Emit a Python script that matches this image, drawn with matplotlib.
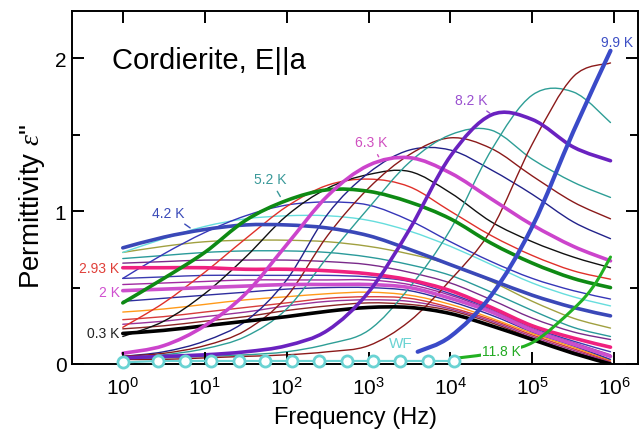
import matplotlib
matplotlib.use("Agg")
import matplotlib.pyplot as plt
import numpy as np
from matplotlib.path import Path
from matplotlib.patches import PathPatch

plt.rcParams["font.family"] = ["Liberation Sans", "DejaVu Sans"]
plt.rcParams["mathtext.fontset"] = "custom"
plt.rcParams["mathtext.rm"] = "Liberation Sans"
plt.rcParams["mathtext.it"] = "Liberation Serif:italic"

# frequency grid (Hz), half-decade steps
FREQ = [1, 3.16, 10, 31.6, 100, 316, 1e3, 3.16e3, 1e4, 3.16e4, 1e5, 3.16e5, 9e5]

# low-temperature ("flat") curves
T03_black = [0.20, 0.22, 0.25, 0.28, 0.31, 0.345, 0.37, 0.37, 0.33, 0.25, 0.16, 0.07, 0.0]
brown_a = [0.23, 0.25, 0.28, 0.31, 0.35, 0.38, 0.40, 0.39, 0.35, 0.27, 0.17, 0.08, 0.01]
purple_a = [0.26, 0.28, 0.31, 0.34, 0.38, 0.41, 0.42, 0.41, 0.36, 0.28, 0.18, 0.09, 0.015]
red_a = [0.29, 0.31, 0.34, 0.37, 0.40, 0.43, 0.44, 0.43, 0.37, 0.29, 0.19, 0.10, 0.02]
orange_a = [0.34, 0.36, 0.39, 0.42, 0.44, 0.46, 0.47, 0.45, 0.39, 0.30, 0.20, 0.11, 0.025]
navy_a = [0.41, 0.43, 0.45, 0.47, 0.49, 0.50, 0.50, 0.48, 0.41, 0.32, 0.21, 0.12, 0.03]
T2_mag = [0.48, 0.49, 0.50, 0.51, 0.52, 0.52, 0.52, 0.50, 0.43, 0.34, 0.22, 0.13, 0.05]
purple_b = [0.52, 0.53, 0.54, 0.55, 0.55, 0.55, 0.55, 0.52, 0.45, 0.35, 0.23, 0.14, 0.06]
navy_b = [0.56, 0.57, 0.58, 0.58, 0.58, 0.58, 0.57, 0.54, 0.46, 0.36, 0.24, 0.15, 0.08]
T293_pink = [0.63, 0.63, 0.63, 0.62, 0.62, 0.61, 0.59, 0.55, 0.48, 0.37, 0.25, 0.17, 0.11]
purple_c = [0.66, 0.67, 0.68, 0.68, 0.68, 0.67, 0.65, 0.60, 0.53, 0.42, 0.30, 0.21, 0.16]
teal_a = [0.69, 0.71, 0.73, 0.74, 0.74, 0.73, 0.70, 0.65, 0.58, 0.47, 0.35, 0.24, 0.18]
olive_a = [0.73, 0.77, 0.80, 0.81, 0.81, 0.80, 0.77, 0.72, 0.65, 0.54, 0.41, 0.30, 0.235]
T42_blue = [0.76, 0.83, 0.88, 0.91, 0.91, 0.89, 0.84, 0.75, 0.65, 0.55, 0.45, 0.37, 0.315]

# higher-temperature curves, peak moving to the right
cyan_r = [0.73, 0.82, 0.90, 0.95, 0.97, 0.97, 0.94, 0.87, 0.77, 0.65, 0.53, 0.44, 0.38]
blue_r = [0.56, 0.72, 0.86, 0.97, 1.04, 1.06, 1.04, 0.94, 0.80, 0.67, 0.56, 0.48, 0.425]
T52_green = [0.40, 0.56, 0.73, 0.94, 1.07, 1.14, 1.13, 1.06, 0.95, 0.79, 0.66, 0.56, 0.50]
red_r = [0.24, 0.40, 0.60, 0.82, 1.03, 1.17, 1.21, 1.16, 1.00, 0.84, 0.71, 0.61, 0.555]
black_r = [0.18, 0.28, 0.46, 0.70, 0.97, 1.15, 1.24, 1.26, 1.12, 0.93, 0.80, 0.70, 0.63]
T63_mag = [0.07, 0.12, 0.25, 0.46, 0.78, 1.10, 1.30, 1.35, 1.25, 1.08, 0.91, 0.77, 0.675]
navy_r = [0.05, 0.08, 0.15, 0.28, 0.55, 0.98, 1.25, 1.40, 1.40, 1.27, 1.11, 0.93, 0.82]
brown_r = [0.05, 0.07, 0.12, 0.22, 0.44, 0.84, 1.15, 1.37, 1.48, 1.41, 1.23, 1.06, 0.95]
teal_r = [0.04, 0.06, 0.10, 0.18, 0.36, 0.70, 1.02, 1.32, 1.50, 1.53, 1.34, 1.19, 1.09]
T82_purple = [0.04, 0.05, 0.06, 0.08, 0.12, 0.22, 0.47, 0.88, 1.36, 1.63, 1.60, 1.42, 1.33]
teal_s = [0.03, 0.04, 0.05, 0.06, 0.08, 0.13, 0.22, 0.50, 0.88, 1.40, 1.76, 1.78, 1.58]
brown_s = [0.03, 0.03, 0.04, 0.05, 0.06, 0.08, 0.12, 0.28, 0.55, 0.88, 1.44, 1.88, 1.97]

F99 = [3980, 1e4, 3.16e4, 1e5, 3.16e5, 9e5]
T99_blue = [0.08, 0.18, 0.45, 0.90, 1.52, 2.05]
F118 = [12600, 3.16e4, 1e5, 3.16e5, 5.6e5, 9e5]
T118_green = [0.04, 0.07, 0.14, 0.36, 0.51, 0.70]

WF_FREQ = [1, 2.7, 5.8, 12, 26, 55, 118, 250, 540, 1150, 2450, 5250, 11200]
WF_EPS = [0.01, 0.02, 0.02, 0.02, 0.02, 0.02, 0.02, 0.02, 0.02, 0.02, 0.02, 0.02, 0.02]

THIN = [
    (brown_a, "#8b2525"), (purple_a, "#993399"), (red_a, "#d63b3b"),
    (orange_a, "#ff9a1a"), (navy_a, "#2e2e9e"), (purple_b, "#a02aa0"),
    (navy_b, "#3a3ab0"), (purple_c, "#7a2a8a"), (teal_a, "#2a9a9a"),
    (olive_a, "#a0a040"), (cyan_r, "#66dddd"), (blue_r, "#3636b8"),
    (red_r, "#e0302a"), (black_r, "#111111"), (navy_r, "#22228a"),
    (brown_r, "#8b1a1a"), (teal_r, "#2e9e96"), (teal_s, "#2e9e96"),
    (brown_s, "#8b1a1a"),
]
THICK = [
    (T03_black, "#000000"), (T2_mag, "#cc4fcc"), (T293_pink, "#f0217f"),
    (T42_blue, "#3a48b8"), (T52_green, "#0e8a14"), (T63_mag, "#cc44cc"),
    (T82_purple, "#6a22c0"),
]


def smooth_line(ax, xs, ys, **kw):
    """Draw the measured points as one smooth Bezier path (log-x space)."""
    lx = np.log10(xs)
    pts = np.column_stack([lx, ys])
    n = len(pts)
    verts = [pts[0]]
    codes = [Path.MOVETO]
    for i in range(n - 1):
        p0 = pts[max(i - 1, 0)]
        p1, p2 = pts[i], pts[i + 1]
        p3 = pts[min(i + 2, n - 1)]
        verts += [p1 + (p2 - p0) / 6, p2 - (p3 - p1) / 6, p2]
        codes += [Path.CURVE4] * 3
    verts = np.array(verts)
    verts[:, 0] = 10 ** verts[:, 0]
    ax.add_patch(PathPatch(Path(verts, codes), fill=False, capstyle="round",
                           joinstyle="round", **kw))


fig = plt.figure(figsize=(6.44, 4.35), dpi=100)
ax = fig.add_axes([72 / 644, 1 - 365 / 435, 566 / 644, 353 / 435])
ax.set_xscale("log")
ax.set_xlim(10 ** -0.62, 10 ** 6.29)
ax.set_ylim(0, 2.31)

for ys, c in THIN:
    smooth_line(ax, FREQ, ys, edgecolor=c, lw=1.0)
for ys, c in THICK:
    smooth_line(ax, FREQ, ys, edgecolor=c, lw=2.6)
smooth_line(ax, F99, T99_blue, edgecolor="#3a4ac8", lw=3.0)
smooth_line(ax, F118, T118_green, edgecolor="#22b022", lw=2.2)
ax.plot(WF_FREQ, WF_EPS, color="#6ad3d3", lw=1.5, marker="o", ms=8,
        mfc="white", mec="#6ad3d3", mew=2, clip_on=False, zorder=5)

ax.set_xticks([10 ** k for k in range(7)])
ax.set_xticklabels([f"$10^{{{k}}}$" for k in range(7)])
ax.xaxis.set_minor_locator(matplotlib.ticker.NullLocator())
ax.set_yticks([0, 1, 2])
ax.set_yticks([0.5, 1.5], minor=True)
ax.tick_params(which="both", direction="in", top=True, right=True, width=1.4,
               labelsize=15)
ax.tick_params(which="major", length=8.5)
ax.tick_params(which="minor", length=6)
ax.tick_params(axis="x", pad=9)
ax.tick_params(axis="y", pad=4)
for s in ax.spines.values():
    s.set_linewidth(1.4)

ax.set_xlabel("Frequency (Hz)", fontsize=17, labelpad=6)
ax.set_ylabel("Permittivity $\\varepsilon$\"", fontsize=20)
ax.yaxis.set_label_coords(-0.045, 0.45)

ax.text(10 ** -0.13, 1.94, "Cordierite, E||a", fontsize=21, va="baseline")

lab = dict(fontsize=10, ha="center", va="center")
ax.text(10 ** 6.04, 2.11, "9.9 K", color="#3d4fc5", **lab)
ax.annotate("8.2 K", xy=(10 ** 4.51, 1.63), xytext=(10 ** 4.25, 1.73),
            color="#9a50d0", arrowprops=dict(arrowstyle="-", color="#9a50d0", lw=1), **lab)
ax.annotate("6.3 K", xy=(10 ** 3.14, 1.34), xytext=(10 ** 3.03, 1.45),
            color="#d050c0", arrowprops=dict(arrowstyle="-", color="#d050c0", lw=1), **lab)
ax.annotate("5.2 K", xy=(10 ** 1.94, 1.08), xytext=(10 ** 1.80, 1.21),
            color="#3a9999", arrowprops=dict(arrowstyle="-", color="#3a9999", lw=1), **lab)
ax.annotate("4.2 K", xy=(10 ** 0.85, 0.88), xytext=(10 ** 0.56, 0.99),
            color="#3a4ab8", arrowprops=dict(arrowstyle="-", color="#3a4ab8", lw=1), **lab)
side = dict(fontsize=10, ha="right", va="center")
ax.text(10 ** -0.04, 0.63, "2.93 K", color="#e0403a", **side)
ax.text(10 ** -0.04, 0.47, "2 K", color="#d050d0", **side)
ax.text(10 ** -0.04, 0.20, "0.3 K", color="#222222", **side)
ax.text(10 ** 4.62, 0.085, "11.8 K", color="#22aa22", fontsize=10, ha="center",
        va="center", bbox=dict(fc="white", ec="none", pad=0.5), zorder=6)
ax.text(10 ** 3.39, 0.14, "WF", color="#6ad3d3", fontsize=11, ha="center", va="center")

fig.savefig("out.png", dpi=100)
